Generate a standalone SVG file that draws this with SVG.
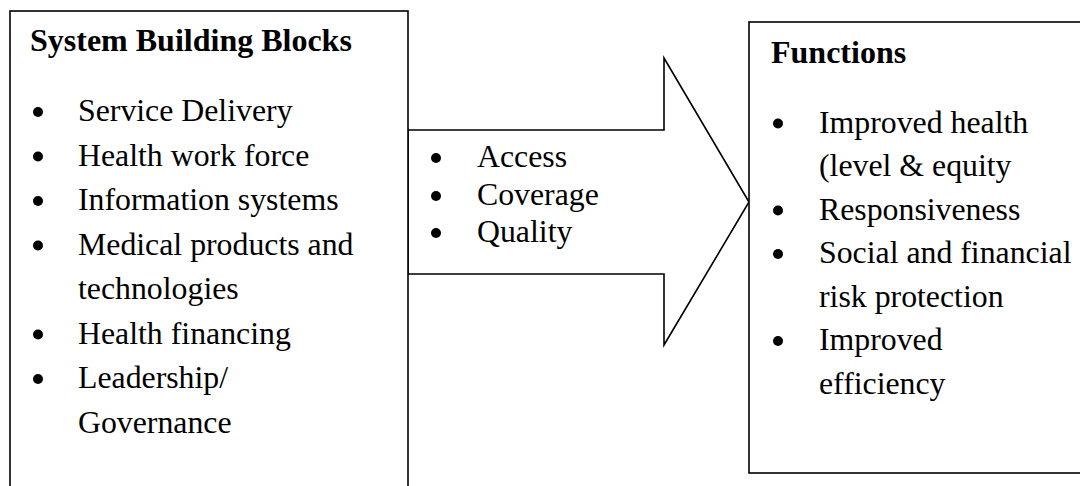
<svg xmlns="http://www.w3.org/2000/svg" width="1080" height="486" viewBox="0 0 1080 486">
<style>
.box{fill:#fff;stroke:#000;stroke-width:1.6}
.t{font-family:"Liberation Serif","Times New Roman",serif;font-size:31.8px;fill:#000}
.h{font-family:"Liberation Serif","Times New Roman",serif;font-size:32px;font-weight:bold;fill:#000}
.b{fill:#000}
</style>
<rect width="1080" height="486" fill="#fff"/>
<g id="connectors">
<polygon class="box" points="408,130 664,130 664,58 749,202 664,345 664,274 408,274"/>
</g>
<g id="node-building-blocks">
<rect class="box" x="10" y="11" width="398" height="490"/>
<text class="h" x="30" y="51">System Building Blocks</text>
<circle class="b" cx="38" cy="112" r="5"/><text class="t" x="78" y="121">Service Delivery</text>
<circle class="b" cx="38" cy="156.5" r="5"/><text class="t" x="78" y="165.5">Health work force</text>
<circle class="b" cx="38" cy="201" r="5"/><text class="t" x="78" y="210">Information systems</text>
<circle class="b" cx="38" cy="245.5" r="5"/><text class="t" x="78" y="254.5">Medical products and</text>
<text class="t" x="78" y="299">technologies</text>
<circle class="b" cx="38" cy="334.5" r="5"/><text class="t" x="78" y="343.5">Health financing</text>
<circle class="b" cx="38" cy="379" r="5"/><text class="t" x="78" y="388">Leadership/</text>
<text class="t" x="78" y="432.5">Governance</text>
</g>
<g id="node-arrow-label">
<circle class="b" cx="436" cy="158" r="5"/><text class="t" x="477" y="167">Access</text>
<circle class="b" cx="436" cy="196" r="5"/><text class="t" x="477" y="205">Coverage</text>
<circle class="b" cx="436" cy="233" r="5"/><text class="t" x="477" y="242">Quality</text>
</g>
<g id="node-functions">
<rect class="box" x="749" y="22" width="340" height="451"/>
<text class="h" x="771" y="63">Functions</text>
<circle class="b" cx="778" cy="123.5" r="5"/><text class="t" x="819" y="132.5">Improved health</text>
<text class="t" x="819" y="176">(level &amp; equity</text>
<circle class="b" cx="778" cy="210.5" r="5"/><text class="t" x="819" y="219.5">Responsiveness</text>
<circle class="b" cx="778" cy="254" r="5"/><text class="t" x="819" y="263">Social and financial</text>
<text class="t" x="819" y="306.5">risk protection</text>
<circle class="b" cx="778" cy="341" r="5"/><text class="t" x="819" y="350">Improved</text>
<text class="t" x="819" y="393.5">efficiency</text>
</g>
</svg>
